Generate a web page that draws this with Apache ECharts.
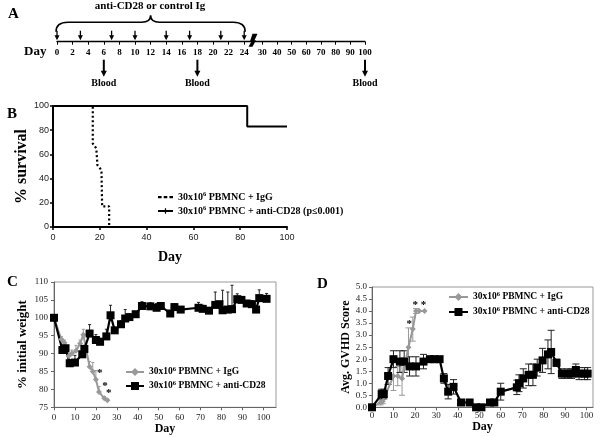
<!DOCTYPE html>
<html><head><meta charset="utf-8">
<script src="https://cdn.jsdelivr.net/npm/echarts@6/dist/echarts.min.js"></script>
<style>html,body{margin:0;padding:0;background:#fff}#c{width:602px;height:437px}</style>
</head><body><div id="c"></div>
<script>
const SERIF = '"Liberation Serif","Times New Roman",serif';
const SANS = '"Liberation Sans",Arial,sans-serif';

// ---------- Panel A: schedule ----------
const aTicksEarly = [0,2,4,6,8,10,12,14,16,18,20,22,24];
const aTicksLate = [30,40,50,60,70,80,90,100];
const treatDays = [0,3,7,10,14,17,21,24];
const bloodDays = [6,18,100];
const breakDay = [25];

// ---------- Panel B: survival ----------
const survDaysIgG = [0,17,17,18.5,19,19,20.7,21,21,24,24];
const survValsIgG = [100,100,69,65,65,51,47,47,17,17,0];
const survDaysCD28 = [0,83,83,100];
const survValsCD28 = [100,100,83,83];

// ---------- Panel C: weight ----------
const wtDaysIgG = [0,3.5,5,7,8.5,10.5,12.5,14,17,18.5,20,21.5,24,25.5];
const wtValsIgG = [100,94,93,89.3,90,90.8,92.8,95.3,86.3,85,82.8,79.3,77.5,77];
const wtErrIgG  = [0,0.8,0.8,0.8,1,1.5,1,1.5,1.5,2.5,2.5,1.5,0.5,0.3];
const wtDaysCD28 = [0,4,5.5,7.5,10,13.5,14.5,17,20,22,25,27,29,32,34,36,39,42,46,49,51,55.5,57.5,60.5,69,71,74,77,79,80.5,83,85,87.5,89.5,92,94.5,96.5,98,101.5];
const wtValsCD28 = [100,91,91.5,87.3,87.5,89.8,91.3,95.6,93.8,93.3,94.8,100.7,96.5,98.2,99.8,100.2,101,103.3,103.2,102.8,103.3,101.2,103,102.3,102.8,102.5,102,103.6,103.8,102.1,102.3,102.4,105.2,105,104,103.8,102.3,105.5,105.3];
const wtErrCD28  = [0,1,0.5,1,2,1,1,2.5,1.5,1,2,2.8,0.5,1,2.5,0.8,0.5,1.2,1,1.2,0.8,0.8,0.8,0.5,1.5,1,0.8,3.6,0.6,5.6,4.9,6.7,1.5,0.8,0.8,1,0.7,2.3,1.5];
const wtStarDays = [21.8,24.3,26.2];
const wtStarVals = [85.2,81.5,79.6];

// ---------- Panel D: GVHD score ----------
const gvDaysIgG = [0,4,5,10,12,14,17,19,20.5,22,24.5];
const gvValsIgG = [0,0.2,0.25,1.3,1.3,1.2,2.5,3.25,4.0,4.0,4.0];
const gvErrIgG  = [0,0.1,0.1,0.6,0.4,0.7,0.8,0.5,0.1,0,0];
const gvDaysCD28 = [0,4.5,5.5,7.5,10,13,15,17.5,20.5,24,27,29,31.5,33.5,35.5,38,41.5,45.5,48.5,51,55,57,60,67.5,68.5,70.5,73,75,77,79.5,82,83.5,86,88.5,91,93,95,96.5,99,100.5];
const gvValsCD28 = [0,0.55,0.55,1.3,2.0,1.9,1.9,1.7,1.7,1.9,2.0,2.0,2.0,1.2,0.65,0.85,0.2,0.2,0,0,0.2,0.2,0.65,0.83,1.0,1.2,1.35,1.35,1.65,1.95,2.2,2.3,1.85,1.4,1.4,1.4,1.55,1.4,1.4,1.4];
const gvErrCD28  = [0,0.2,0.2,0.35,0.35,0.45,0.45,0.4,0.4,0.3,0.1,0.1,0.1,0.2,0.3,0.3,0.1,0.1,0,0,0.1,0.1,0.35,0.3,0.35,0.4,0.45,0.45,0.35,0.5,0.6,0.9,0.15,0.2,0.2,0.2,0.25,0.25,0.25,0.25];
const gvStarDays = [17.4,20.2,24];
const gvStarVals = [3.55,4.34,4.34];

const IGG = '30x10⁶ PBMNC + IgG';
const CD28 = '30x10⁶ PBMNC + anti-CD28';
const B_IGG = IGG + ' ';
const B_CD28 = '30x10⁶ PBMNC + anti-CD28 (p≤0.001)';

const zip = (a, b) => a.map((d, i) => [d, b[i]]);
const bold = (s) => ({fontFamily: SERIF, fontWeight: 'bold', fontSize: s, color: '#000'});

// legend icon shapes for panel B (15 x 10 box; tiny corner triangles fix the box)
const BOX = 'M0,0 L0.01,0 L0,0.01 Z M15,10 L14.99,10 L15,9.99 Z ';
const ICON_DASH = 'path://' + BOX + 'M0,4 L3.6,4 L3.6,6.2 L0,6.2 Z M5.7,4 L9.3,4 L9.3,6.2 L5.7,6.2 Z M11.4,4 L15,4 L15,6.2 L11.4,6.2 Z';
const ICON_SOLID = 'path://' + BOX + 'M0,4 L15,4 L15,6 L0,6 Z M6.9,2.2 L8.1,2.2 L8.1,7.8 L6.9,7.8 Z';

function arrow(x, yTop, yTip, shaftW, headW, headL) {
  return [
    {type: 'line', shape: {x1: x, y1: yTop, x2: x, y2: yTip - headL + 1}, style: {stroke: '#000', lineWidth: shaftW}},
    {type: 'polygon', shape: {points: [[x - headW / 2, yTip - headL], [x + headW / 2, yTip - headL], [x, yTip]]}, style: {fill: '#000'}}
  ];
}
function textEl(x, y, t, font) {
  return {type: 'text', x: x, y: y, style: {text: t, font: font, fill: '#000', align: 'center', verticalAlign: 'middle', textAlign: 'center', textVerticalAlign: 'middle'}};
}

function errSeries(ax, days, vals, errs, color, capW, both) {
  return {
    type: 'custom', xAxisIndex: ax, yAxisIndex: ax, silent: true, clip: false,
    data: days.map((d, i) => [d, vals[i], errs[i]]),
    renderItem(params, api) {
      const x = api.value(0), v = api.value(1), e = api.value(2);
      if (!e) return null;
      const top = api.coord([x, v + e]);
      const bot = api.coord([x, both ? v - e : v]);
      const st = {stroke: color, lineWidth: 1};
      const ch = [{type: 'line', shape: {x1: top[0], y1: top[1], x2: bot[0], y2: bot[1]}, style: st}];
      if (capW) {
        ch.push({type: 'line', shape: {x1: top[0] - capW / 2, y1: top[1], x2: top[0] + capW / 2, y2: top[1]}, style: st});
        if (both) ch.push({type: 'line', shape: {x1: bot[0] - capW / 2, y1: bot[1], x2: bot[0] + capW / 2, y2: bot[1]}, style: st});
      }
      return {type: 'group', children: ch};
    }
  };
}
function starSeries(ax, days, vals) {
  return {
    type: 'custom', xAxisIndex: ax, yAxisIndex: ax, silent: true, clip: false, z: 5,
    data: zip(days, vals),
    renderItem(params, api) {
      const p = api.coord([api.value(0), api.value(1)]);
      return textEl(p[0], p[1] + 2.5, '*', 'bold 11px ' + SERIF);
    }
  };
}

const legendText = (size) => ({
  formatter: (n) => n.trim().replace('⁶', '{s|6}'),
  textStyle: Object.assign(bold(size), {lineHeight: 12, rich: {s: {fontFamily: SERIF, fontWeight: 'bold', fontSize: 6.5, verticalAlign: 'top', lineHeight: 9}}})
});

const chart = echarts.init(document.getElementById('c'));
const option = {
  animation: false,
  backgroundColor: '#fff',
  title: [
    {text: 'A', left: 8, top: 7, padding: 0, textStyle: bold(15)},
    {text: 'B', left: 7, top: 107, padding: 0, textStyle: bold(15)},
    {text: 'C', left: 7, top: 275, padding: 0, textStyle: bold(15)},
    {text: 'D', left: 317, top: 277, padding: 0, textStyle: bold(15)},
    {text: 'anti-CD28 or control Ig', left: 150, textAlign: 'center', top: 1, padding: 0, textStyle: bold(11)},
    {text: 'Day', left: 24, top: 45, padding: 0, textStyle: bold(13)}
  ],
  legend: [
    Object.assign({data: [{name: B_IGG, icon: ICON_DASH}, {name: B_CD28, icon: ICON_SOLID}], left: 158, top: 191, orient: 'vertical', itemWidth: 15, itemHeight: 10, itemGap: 2, padding: 0, selectedMode: false}, legendText(10)),
    Object.assign({data: [IGG, CD28], left: 125, top: 366, orient: 'vertical', itemWidth: 18, itemHeight: 10, itemGap: 2, padding: 0, selectedMode: false}, legendText(9.5)),
    Object.assign({data: [IGG, CD28], left: 448, top: 291, orient: 'vertical', itemWidth: 19, itemHeight: 10, itemGap: 3, padding: 0, selectedMode: false}, legendText(9.5))
  ],
  grid: [
    {left: 57, top: 20, width: 195, height: 21.7, outerBoundsMode: 'none'},
    {left: 255, top: 20, width: 110, height: 21.7, outerBoundsMode: 'none'},
    {left: 53, top: 106, width: 234, height: 121, outerBoundsMode: 'none'},
    {left: 54, top: 282, width: 222, height: 125.3, show: true, borderColor: '#999', borderWidth: 1, outerBoundsMode: 'none'},
    {left: 372, top: 287, width: 221, height: 120.3, show: true, borderColor: '#999', borderWidth: 1, outerBoundsMode: 'none'}
  ],
  xAxis: [
    {gridIndex: 0, type: 'value', min: 0, max: 25, splitLine: {show: false},
      axisLine: {lineStyle: {color: '#000', width: 1.3}},
      axisTick: {customValues: aTicksEarly, length: 3, lineStyle: {color: '#000'}},
      axisLabel: {customValues: aTicksEarly, margin: 6, fontFamily: SERIF, fontWeight: 'bold', fontSize: 9, color: '#000'}},
    {gridIndex: 1, type: 'value', min: 25, max: 100, splitLine: {show: false},
      axisLine: {lineStyle: {color: '#000', width: 1.3}},
      axisTick: {customValues: aTicksLate, length: 3, lineStyle: {color: '#000'}},
      axisLabel: {customValues: aTicksLate, margin: 6, fontFamily: SERIF, fontWeight: 'bold', fontSize: 9, color: '#000'}},
    {gridIndex: 2, type: 'value', min: 0, max: 100, interval: 20, splitLine: {show: false},
      axisLine: {lineStyle: {color: '#000', width: 2}},
      axisTick: {length: 3, lineStyle: {color: '#000', width: 1.5}},
      axisLabel: {margin: 6, fontFamily: SANS, fontSize: 9, color: '#222'},
      name: 'Day', nameLocation: 'middle', nameGap: 23, nameTextStyle: bold(14)},
    {gridIndex: 3, type: 'value', min: 0, max: 106, splitLine: {show: false},
      axisLine: {lineStyle: {color: '#666'}},
      axisTick: {customValues: [0,10,20,30,40,50,60,70,80,90,100], length: 3, lineStyle: {color: '#666'}},
      axisLabel: {customValues: [0,10,20,30,40,50,60,70,80,90,100], margin: 6, fontFamily: SERIF, fontSize: 9, color: '#222'},
      name: 'Day', nameLocation: 'middle', nameGap: 14, nameTextStyle: bold(12)},
    {gridIndex: 4, type: 'value', min: 0, max: 103, splitLine: {show: false},
      axisLine: {lineStyle: {color: '#666'}},
      axisTick: {customValues: [0,10,20,30,40,50,60,70,80,90,100], length: 3, lineStyle: {color: '#666'}},
      axisLabel: {customValues: [0,10,20,30,40,50,60,70,80,90,100], margin: 4, fontFamily: SERIF, fontSize: 9, color: '#222'},
      name: 'Day', nameLocation: 'middle', nameGap: 13, nameTextStyle: bold(12)}
  ],
  yAxis: [
    {gridIndex: 0, type: 'value', min: 0, max: 1, show: false},
    {gridIndex: 1, type: 'value', min: 0, max: 1, show: false},
    {gridIndex: 2, type: 'value', min: 0, max: 100, interval: 20, splitLine: {show: false},
      axisLine: {show: true, lineStyle: {color: '#000', width: 2}},
      axisTick: {show: true, length: 3, lineStyle: {color: '#000', width: 1.5}},
      axisLabel: {margin: 4, fontFamily: SANS, fontSize: 9, color: '#222'},
      name: '% survival', nameLocation: 'middle', nameRotate: 90, nameGap: 22, nameTextStyle: bold(16)},
    {gridIndex: 3, type: 'value', min: 75, max: 110, interval: 5, splitLine: {show: false},
      axisLine: {show: true, lineStyle: {color: '#666'}},
      axisTick: {show: true, length: 3, lineStyle: {color: '#666'}},
      axisLabel: {margin: 6, fontFamily: SERIF, fontSize: 9, color: '#222'},
      name: '% initial weight', nameLocation: 'middle', nameRotate: 90, nameGap: 25, nameTextStyle: bold(13)},
    {gridIndex: 4, type: 'value', min: 0, max: 5, interval: 0.5, splitLine: {show: false},
      axisLine: {show: true, lineStyle: {color: '#666'}},
      axisTick: {show: true, length: 3, lineStyle: {color: '#666'}},
      axisLabel: {margin: 5, fontFamily: SERIF, fontSize: 9, color: '#222', formatter: (v) => v.toFixed(1)},
      name: 'Avg. GVHD Score', nameLocation: 'middle', nameRotate: 90, nameGap: 18, nameTextStyle: bold(12)}
  ],
  series: [
    {type: 'custom', xAxisIndex: 0, yAxisIndex: 0, silent: true, clip: false,
      data: [[treatDays[0], treatDays[treatDays.length - 1]]],
      renderItem(params, api) {
        const p0 = api.coord([api.value(0), 0]), p1 = api.coord([api.value(1), 0]);
        const y0 = p0[1] - 10, yh = p0[1] - 19.5, yt = p0[1] - 26.5;
        const x0 = p0[0] - 1, x1 = p1[0] + 1, xm = (x0 + x1) / 2;
        const d = `M${x0},${y0} Q${x0},${yh} ${x0 + 12},${yh} L${xm - 9},${yh} Q${xm},${yh} ${xm},${yt} Q${xm},${yh} ${xm + 9},${yh} L${x1 - 12},${yh} Q${x1},${yh} ${x1},${y0}`;
        return {type: 'path', shape: {pathData: d}, style: {stroke: '#000', fill: 'none', lineWidth: 1.6}};
      }},
    {type: 'custom', xAxisIndex: 0, yAxisIndex: 0, silent: true, clip: false,
      data: treatDays.map((d) => [d, 0]),
      renderItem(params, api) {
        const p = api.coord([api.value(0), 0]);
        return {type: 'group', children: arrow(p[0], p[1] - 11, p[1] - 1.5, 1.3, 5, 5)};
      }},
    {type: 'custom', xAxisIndex: 0, yAxisIndex: 0, silent: true, clip: false,
      data: breakDay.map((d) => [d, 0]),
      renderItem(params, api) {
        const p = api.coord([api.value(0), 0]);
        const x = p[0] + 1.5, y = p[1];
        return {type: 'polygon', shape: {points: [[x - 1, y - 8], [x + 4, y - 8], [x + 1, y - 1.5], [x + 2.5, y - 1.5], [x - 1, y + 5], [x - 5, y + 5], [x - 2, y - 0.5], [x - 3.5, y - 0.5]]}, style: {fill: '#000'}};
      }},
    {type: 'custom', xAxisIndex: 0, yAxisIndex: 0, silent: true, clip: false,
      data: bloodDays.filter((d) => d <= 25).map((d) => [d, 0]),
      renderItem(params, api) {
        const p = api.coord([api.value(0), 0]);
        return {type: 'group', children: arrow(p[0], p[1] + 18, p[1] + 35, 2, 6, 6).concat([textEl(p[0], p[1] + 42, 'Blood', 'bold 10px ' + SERIF)])};
      }},
    {type: 'custom', xAxisIndex: 1, yAxisIndex: 1, silent: true, clip: false,
      data: bloodDays.filter((d) => d > 25).map((d) => [d, 0]),
      renderItem(params, api) {
        const p = api.coord([api.value(0), 0]);
        return {type: 'group', children: arrow(p[0], p[1] + 18, p[1] + 35, 2, 6, 6).concat([textEl(p[0], p[1] + 42, 'Blood', 'bold 10px ' + SERIF)])};
      }},
    {type: 'line', name: B_IGG, xAxisIndex: 2, yAxisIndex: 2, data: zip(survDaysIgG, survValsIgG), symbol: 'none',
      lineStyle: {color: '#000', width: 2.2, type: [2, 2.5]}, itemStyle: {color: '#000'}, z: 3},
    {type: 'line', name: B_CD28, xAxisIndex: 2, yAxisIndex: 2, data: zip(survDaysCD28, survValsCD28), symbol: 'none',
      lineStyle: {color: '#000', width: 2}, itemStyle: {color: '#000'}, z: 2},
    errSeries(3, wtDaysIgG, wtValsIgG, wtErrIgG, '#999', 3, false),
    {type: 'line', name: IGG, xAxisIndex: 3, yAxisIndex: 3, data: zip(wtDaysIgG, wtValsIgG), symbol: 'diamond', symbolSize: 6,
      lineStyle: {color: '#999', width: 2}, itemStyle: {color: '#999'}},
    errSeries(3, wtDaysCD28, wtValsCD28, wtErrCD28, '#222', 3, false),
    {type: 'line', name: CD28, xAxisIndex: 3, yAxisIndex: 3, data: zip(wtDaysCD28, wtValsCD28), symbol: 'rect', symbolSize: 8,
      lineStyle: {color: '#000', width: 2.2}, itemStyle: {color: '#000'}},
    starSeries(3, wtStarDays, wtStarVals),
    errSeries(4, gvDaysIgG, gvValsIgG, gvErrIgG, '#999', 6, true),
    {type: 'line', name: IGG, xAxisIndex: 4, yAxisIndex: 4, data: zip(gvDaysIgG, gvValsIgG), symbol: 'diamond', symbolSize: 6,
      lineStyle: {color: '#999', width: 2}, itemStyle: {color: '#999'}},
    errSeries(4, gvDaysCD28, gvValsCD28, gvErrCD28, '#222', 7, true),
    {type: 'line', name: CD28, xAxisIndex: 4, yAxisIndex: 4, data: zip(gvDaysCD28, gvValsCD28), symbol: 'rect', symbolSize: 8,
      lineStyle: {color: '#000', width: 2.2}, itemStyle: {color: '#000'}},
    starSeries(4, gvStarDays, gvStarVals)
  ]
};
chart.setOption(option);
</script></body></html>
